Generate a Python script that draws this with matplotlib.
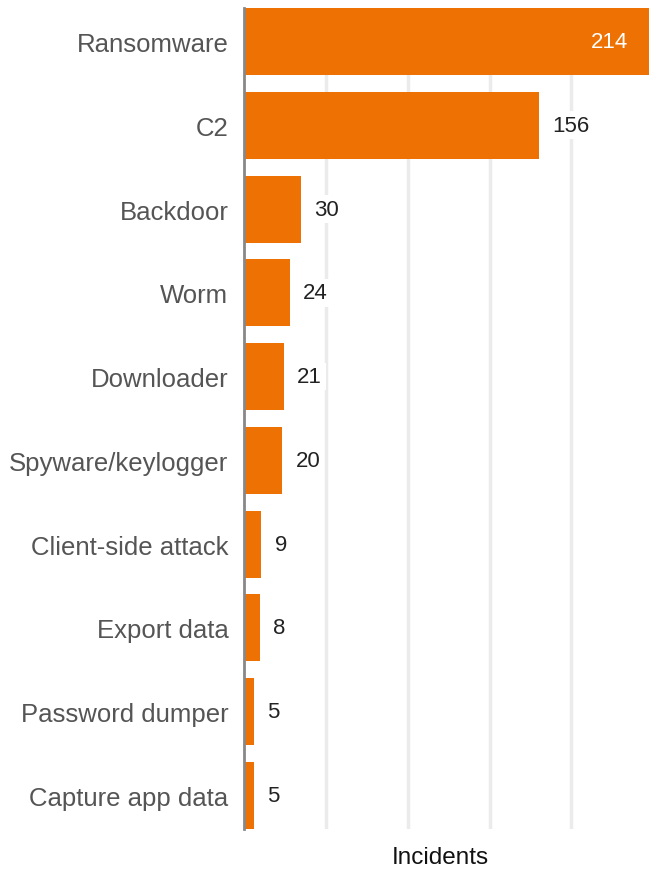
import matplotlib.pyplot as plt

# Malware incident counts by type
categories = ["Ransomware", "C2", "Backdoor", "Worm", "Downloader",
              "Spyware/keylogger", "Client-side attack", "Export data",
              "Password dumper", "Capture app data"]
incidents = [214, 156, 30, 24, 21, 20, 9, 8, 5, 5]

bar_color = "#EE7203"

plt.rcParams["font.family"] = ["Liberation Sans", "DejaVu Sans"]

fig = plt.figure(figsize=(6.53, 8.70), dpi=100)
ax = fig.add_axes([0.3744, 0.046, 0.6195, 0.9437])

xmax = max(incidents)
# light vertical guides, equal steps across the range
for k in range(1, 5):
    ax.axvline(xmax * k / 4.95, color="#ebebeb", lw=2.5, zorder=0)

y = list(range(len(categories)))
ax.barh(y, incidents, height=0.8, color=bar_color, zorder=2)

for yi, v in zip(y, incidents):
    if v == xmax:
        ax.annotate(str(v), (v, yi), xytext=(-15, 0), textcoords="offset points",
                    ha="right", va="center", color="white", fontsize=16, zorder=3)
    else:
        ax.annotate(str(v), (v, yi), xytext=(9.5, 0), textcoords="offset points",
                    ha="left", va="center", color="#222222", fontsize=16, zorder=3,
                    bbox=dict(boxstyle="square,pad=0.15", fc="white", ec="none"))

ax.set_xlim(0, xmax)
ax.set_ylim(len(categories) - 0.6, -0.4)
ax.set_yticks(y)
ax.set_yticklabels(categories, fontsize=18.5, color="#555555")
ax.set_xticks([])
ax.tick_params(axis="y", length=0, pad=11.5)

for s in ["top", "right", "bottom"]:
    ax.spines[s].set_visible(False)
ax.spines["left"].set_color("#888888")
ax.spines["left"].set_linewidth(2)
ax.spines["left"].set_zorder(4)

fig.text(440 / 653, 1 - 858 / 870, "Incidents", fontsize=17.5, color="#111111",
         ha="center", va="center")

plt.savefig("out.png", dpi=100)
